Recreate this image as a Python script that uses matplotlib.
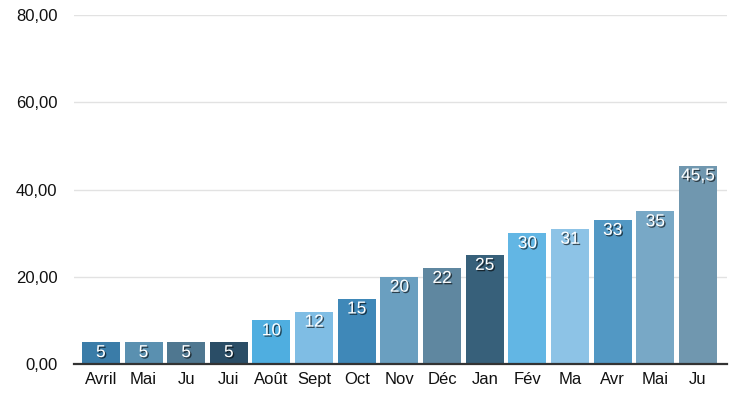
import matplotlib
matplotlib.use("Agg")
import matplotlib.pyplot as plt
import matplotlib.patheffects as pe

plt.rcParams['font.family'] = ['Liberation Sans', 'DejaVu Sans']

months = ['Avril', 'Mai', 'Ju', 'Jui', 'Août', 'Sept', 'Oct', 'Nov',
          'Déc', 'Jan', 'Fév', 'Ma', 'Avr', 'Mai', 'Ju']
values = [5, 5, 5, 5, 10, 12, 15, 20, 22, 25, 30, 31, 33, 35, 45.5]
labels = ['5', '5', '5', '5', '10', '12', '15', '20', '22', '25',
          '30', '31', '33', '35', '45,5']
colors = ['#3a7ca8', '#5a90b0', '#4f7790', '#2a4d66', '#4faee0',
          '#7fbde4', '#3f88b8', '#6a9fc0', '#5f87a0', '#37607a',
          '#62b6e4', '#8dc3e6', '#5298c4', '#78a8c6', '#7097af']
yticks = [0, 20, 40, 60, 80]

fig = plt.figure(figsize=(7.43, 3.99), dpi=100)
ax = fig.add_axes([74 / 743, 35 / 399, 653 / 743, 349 / 399])

x = list(range(len(values)))
ax.bar(x, values, width=0.89, color=colors, zorder=2)

shadow = [pe.withSimplePatchShadow(offset=(1, -1), shadow_rgbFace='black', alpha=0.6)]
for xi, v, lab in zip(x, values, labels):
    ax.annotate(lab, (xi, v), xytext=(0, -7.5), textcoords='offset points',
                ha='center', va='center', color='white', fontsize=12.5,
                path_effects=shadow, zorder=3)

ax.set_xlim(-0.63, 14.68)
ax.set_ylim(0, 80)
ax.set_yticks(yticks)
ax.set_yticklabels(['{:.2f}'.format(t).replace('.', ',') for t in yticks])
ax.set_xticks(x)
ax.set_xticklabels(months)
ax.tick_params(axis='both', length=0, labelsize=12, colors='#111111')
ax.tick_params(axis='y', pad=12)
ax.tick_params(axis='x', pad=6)

ax.grid(axis='y', color='#e2e2e2', linewidth=1, zorder=0)
for s in ['top', 'right', 'left']:
    ax.spines[s].set_visible(False)
ax.spines['bottom'].set_color('#333333')
ax.spines['bottom'].set_linewidth(1.6)
ax.spines['bottom'].set_zorder(4)

fig.savefig('out.png', dpi=100)
